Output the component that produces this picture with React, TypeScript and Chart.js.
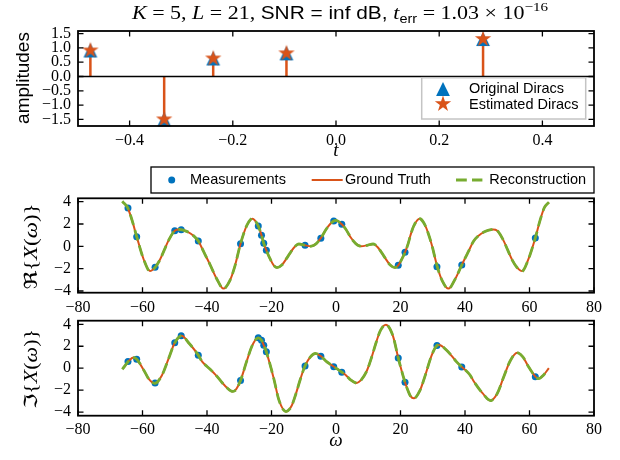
import { useEffect, useRef } from 'react';
import { Chart, registerables } from 'chart.js';

Chart.register(...registerables);

const BLUE = '#0072BD';
const ORANGE = '#D95319';
const GREEN = '#77AC30';

const SERIF = '"Liberation Serif", "DejaVu Serif", serif';
const SANS = '"Liberation Sans", "DejaVu Sans", sans-serif';
const TICK_FONT = { family: SERIF, size: 16 };

// Dirac stream: locations and amplitudes
const DIRAC_T = [-0.476, -0.333, -0.238, -0.096, 0.285];
const DIRAC_A = [0.91, -1.5, 0.63, 0.81, 1.31];

// Real part of the spectrum (ground truth = reconstruction)
const RE_W = [-66, -64.6, -63.2, -61.8, -59.6, -57.7, -56.1, -54.6, -53.2, -51.8, -50, -48.7, -46, -44, -42.7, -41, -39, -37, -34.9, -33, -31.4, -29.6, -27.6, -25.9, -24.1, -23.1, -22.4, -21.6, -20.3, -19.3, -18.3, -16.8, -15, -13, -11.5, -9.6, -7.8, -6.2, -4.75, -3, -1.8, -0.7, 0, 1.8, 3, 4.75, 6.2, 7.8, 9.6, 11.5, 13, 15, 16.8, 18.3, 19.3, 20.3, 21.4, 22.4, 23.1, 24.1, 25.9, 27.6, 29.6, 31.4, 33, 34.9, 37, 39, 41, 42.7, 44, 46, 48.7, 50, 51.8, 53.2, 54.6, 56.1, 57.7, 59.6, 61.8, 63.2, 64.6, 66];
const RE_V = [3.94, 3.46, 2.3, 0.87, -1.2, -2.21, -1.88, -1.2, -0.3, 0.6, 1.4, 1.51, 1.3, 0.9, 0.48, -0.5, -1.67, -2.9, -3.78, -3.12, -1.82, 0.24, 1.9, 2.48, 1.82, 0.99, 0.27, -0.36, -1.2, -1.7, -1.9, -1.67, -0.94, -0.1, 0.21, 0.09, 0.01, 0.22, 0.72, 1.55, 2.0, 2.27, 2.32, 1.97, 1.55, 0.72, 0.22, 0.01, 0.09, 0.21, -0.1, -0.94, -1.67, -1.9, -1.7, -1.2, -0.54, 0.27, 0.99, 1.82, 2.48, 1.9, 0.24, -1.82, -3.12, -3.78, -2.9, -1.67, -0.5, 0.48, 0.9, 1.3, 1.51, 1.4, 0.6, -0.3, -1.2, -1.88, -2.21, -1.2, 0.75, 2.25, 3.46, 3.94];

// Imaginary part of the spectrum (ground truth = reconstruction)
const IM_W = [-66, -64.4, -62.8, -61.8, -59.5, -58, -56.2, -54, -52, -50, -47.9, -45.5, -42.7, -41.5, -39, -37.4, -34.3, -32, -31, -29.6, -27.6, -26, -24.1, -23.1, -22.4, -21.6, -19.3, -17.7, -15.5, -13.8, -12.5, -11, -9.6, -8, -6.4, -4.65, -3, -0.6, 0, 1.8, 3, 4.65, 6.4, 8, 9.6, 11, 12.5, 13.8, 15.5, 17.7, 19.3, 21.4, 22.4, 23.1, 24.1, 26, 27.6, 29.6, 31.2, 32, 34.3, 37.4, 39, 41.5, 42.7, 45.5, 47.9, 50, 52, 54, 56.2, 58, 59.5, 61.9, 62.8, 64.4, 66];
const IM_V = [0, 0.61, 0.97, 0.82, -0.23, -1.0, -1.38, -0.66, 0.8, 2.31, 2.95, 2.25, 1.19, 0.6, -0.1, -0.58, -1.64, -2.12, -1.94, -1.12, 0.72, 2.05, 2.77, 2.55, 2.1, 1.49, -0.94, -2.9, -3.95, -3.45, -2.4, -0.95, 0.21, 1.0, 1.34, 1.09, 0.62, 0.13, 0, -0.36, -0.62, -1.09, -1.34, -1.0, -0.21, 0.95, 2.4, 3.45, 3.95, 2.9, 0.94, -1.28, -2.1, -2.55, -2.75, -2.05, -0.72, 1.12, 2.04, 2.12, 1.64, 0.58, 0.12, -0.6, -1.19, -2.3, -2.95, -2.31, -0.8, 0.66, 1.4, 1.0, 0.23, -0.79, -0.95, -0.61, 0];

// Measured Fourier samples
const MEAS_W = [-64.5, -61.8, -56.1, -50.0, -48.0, -42.7, -29.6, -24.1, -23.1, -22.4, -21.6, -9.6, -4.7, -0.7, 1.8, 19.3, 21.4, 31.3, 39.0, 61.8];
const MEAS_RE = [3.44, 0.85, -1.88, 1.4, 1.49, 0.48, 0.24, 1.82, 0.99, 0.27, -0.36, 0.09, 0.72, 2.27, 1.97, -1.7, -0.54, -1.82, -1.67, 0.75];
const MEAS_IM = [0.61, 0.82, -1.34, 2.31, 2.95, 1.19, -1.12, 2.77, 2.55, 2.1, 1.49, 0.21, 1.09, 0.13, -0.36, 0.94, -1.28, 2.06, 0.12, -0.79];

// Tick values and labels
const T_TICKS = [-0.4, -0.2, 0, 0.2, 0.4];
const T_LABELS = ['−0.4', '−0.2', '0.0', '0.2', '0.4'];
const AMP_TICKS = [-1.5, -1, -0.5, 0, 0.5, 1, 1.5];
const AMP_LABELS = ['−1.5', '−1.0', '−0.5', '0.0', '0.5', '1.0', '1.5'];
const W_TICKS = [-80, -60, -40, -20, 0, 20, 40, 60, 80];
const W_LABELS = ['−80', '−60', '−40', '−20', '0', '20', '40', '60', '80'];
const X_TICKS = [-4, -2, 0, 2, 4];
const X_LABELS = ['−4', '−2', '0', '2', '4'];

type Ctx = CanvasRenderingContext2D;
type Part = { text: string; font: string; dy?: number };

function drawTri(ctx: Ctx, x: number, y: number, s: number, color: string) {
  ctx.beginPath();
  ctx.moveTo(x, y - s);
  ctx.lineTo(x - s, y + s);
  ctx.lineTo(x + s, y + s);
  ctx.closePath();
  ctx.fillStyle = color;
  ctx.fill();
}

function drawStar(ctx: Ctx, x: number, y: number, R: number, color: string) {
  const r = R * 0.381966;
  ctx.beginPath();
  for (let i = 0; i < 10; i++) {
    const a = -Math.PI / 2 + (i * Math.PI) / 5;
    const rad = i % 2 === 0 ? R : r;
    const px = x + rad * Math.cos(a);
    const py = y + rad * Math.sin(a);
    if (i === 0) ctx.moveTo(px, py);
    else ctx.lineTo(px, py);
  }
  ctx.closePath();
  ctx.fillStyle = color;
  ctx.fill();
}

function markerCanvas(draw: (g: Ctx, cx: number, cy: number) => void) {
  const c = document.createElement('canvas');
  c.width = 24;
  c.height = 24;
  const g = c.getContext('2d') as Ctx;
  draw(g, 12, 12);
  return c;
}

function drawParts(ctx: Ctx, parts: Part[], x: number, y: number, fit?: number) {
  let total = 0;
  const widths = parts.map((p) => {
    ctx.font = p.font;
    const w = ctx.measureText(p.text).width;
    total += w;
    return w;
  });
  const sx = fit ? fit / total : 1;
  ctx.save();
  ctx.translate(x - (total * sx) / 2, y);
  ctx.scale(sx, 1);
  ctx.fillStyle = '#000';
  ctx.textAlign = 'left';
  let cx = 0;
  parts.forEach((p, i) => {
    ctx.font = p.font;
    ctx.fillText(p.text, cx, p.dy || 0);
    cx += widths[i];
  });
  ctx.restore();
}

const zip = (xs: number[], ys: number[]) => xs.map((x, i) => ({ x, y: ys[i] }));

// Box around the axes plus inward ticks on all four sides
const framePlugin = {
  id: 'frame',
  afterDatasetsDraw(chart: any) {
    const { ctx, chartArea } = chart;
    const { left, right, top, bottom } = chartArea;
    const xs = chart.scales.x;
    const ys = chart.scales.y;
    const L = 5.5;
    ctx.save();
    ctx.strokeStyle = '#000';
    ctx.lineWidth = 1.3;
    ctx.beginPath();
    for (const t of xs.ticks) {
      const px = xs.getPixelForValue(t.value);
      ctx.moveTo(px, bottom);
      ctx.lineTo(px, bottom - L);
      ctx.moveTo(px, top);
      ctx.lineTo(px, top + L);
    }
    for (const t of ys.ticks) {
      const py = ys.getPixelForValue(t.value);
      ctx.moveTo(left, py);
      ctx.lineTo(left + L, py);
      ctx.moveTo(right, py);
      ctx.lineTo(right - L, py);
    }
    ctx.stroke();
    ctx.lineWidth = 1.8;
    ctx.strokeRect(left, top, right - left, bottom - top);
    ctx.restore();
  },
};

function xAxis(min: number, max: number, ticks: number[], labels: string[], pad: number) {
  return {
    type: 'linear',
    min,
    max,
    grid: { display: false, drawTicks: false },
    border: { display: false },
    ticks: {
      color: '#000',
      font: TICK_FONT,
      padding: pad,
      maxRotation: 0,
      autoSkip: false,
      callback: (_v: any, i: number) => labels[i],
    },
    afterBuildTicks: (s: any) => {
      s.ticks = ticks.map((value) => ({ value }));
    },
    afterFit: (s: any) => {
      s.height = 24;
      s.paddingLeft = 0;
      s.paddingRight = 0;
    },
  };
}

function yAxis(min: number, max: number, ticks: number[], labels: string[]) {
  return {
    type: 'linear',
    min,
    max,
    grid: { display: false, drawTicks: false },
    border: { display: false },
    ticks: {
      color: '#000',
      font: TICK_FONT,
      padding: 7,
      autoSkip: false,
      callback: (_v: any, i: number) => labels[i],
    },
    afterBuildTicks: (s: any) => {
      s.ticks = ticks.map((value) => ({ value }));
    },
    afterFit: (s: any) => {
      s.width = 78;
      s.paddingTop = 0;
      s.paddingBottom = 0;
    },
  };
}

function baseOptions(top: number, bottom: number, x: any, y: any) {
  return {
    animation: false,
    responsive: false,
    devicePixelRatio: 1,
    events: [],
    layout: {
      autoPadding: false,
      padding: { left: 0, right: 26, top, bottom: 460 - bottom - 24 },
    },
    plugins: {
      legend: { display: false },
      tooltip: { enabled: false },
      title: { display: false },
    },
    scales: { x, y },
  };
}

const it = (s: number) => `italic ${s}px ${SERIF}`;
const rm = (s: number) => `${s}px ${SERIF}`;

function spectrumDatasets(w: number[], v: number[], mw: number[], mv: number[]) {
  return [
    {
      data: zip(w, v),
      showLine: true,
      borderColor: GREEN,
      borderWidth: 2.8,
      borderDash: [8, 8],
      borderCapStyle: 'square',
      pointRadius: 0,
      cubicInterpolationMode: 'monotone',
      order: 0,
    },
    {
      data: zip(w, v),
      showLine: true,
      borderColor: ORANGE,
      borderWidth: 2,
      pointRadius: 0,
      cubicInterpolationMode: 'monotone',
      order: 1,
    },
    {
      data: zip(mw, mv),
      showLine: false,
      pointRadius: 3.5,
      pointBackgroundColor: BLUE,
      pointBorderWidth: 0,
      order: 2,
    },
  ];
}

const spectrumLabel = (sym: string): Part[] => [
  { text: sym, font: `18px "DejaVu Serif", "DejaVu Sans"` },
  { text: '{', font: rm(18) },
  { text: 'X', font: it(18) },
  { text: '(', font: rm(18) },
  { text: 'ω', font: it(18) },
  { text: ')', font: rm(18) },
  { text: '}', font: rm(18) },
];

export default function App() {
  const topRef = useRef<HTMLCanvasElement>(null);
  const midRef = useRef<HTMLCanvasElement>(null);
  const botRef = useRef<HTMLCanvasElement>(null);

  useEffect(() => {
    const starImg = markerCanvas((g, cx, cy) => drawStar(g, cx, cy, 8.6, ORANGE));
    const triImg = markerCanvas((g, cx, cy) => drawTri(g, cx, cy, 6.9, BLUE));

    const diracPts = zip(DIRAC_T, DIRAC_A);
    const stems = DIRAC_T.flatMap((t, i) => [
      { x: t, y: 0 },
      { x: t, y: DIRAC_A[i] },
      { x: t, y: NaN },
    ]);

    const topDeco = {
      id: 'topDeco',
      afterDraw(chart: any) {
        const ctx: Ctx = chart.ctx;
        ctx.save();
        ctx.textBaseline = 'alphabetic';
        drawParts(
          ctx,
          [
            { text: 'K', font: it(19) },
            { text: ' = 5, ', font: rm(19) },
            { text: 'L', font: it(19) },
            { text: ' = 21, ', font: rm(19) },
            { text: 'SNR = inf dB, ', font: `18px ${SANS}` },
            { text: 't', font: it(19) },
            { text: 'err', font: `12.5px ${SANS}`, dy: 4 },
            { text: ' = 1.03 × 10', font: rm(19) },
            { text: '−16', font: rm(13), dy: -8 },
          ],
          340,
          19,
          416
        );
        ctx.textBaseline = 'middle';
        drawParts(ctx, [{ text: 't', font: it(19) }], 336, 151);
        // y-axis title
        ctx.save();
        ctx.translate(24, 78);
        ctx.rotate(-Math.PI / 2);
        drawParts(ctx, [{ text: 'amplitudes', font: `19px ${SANS}` }], 0, 0);
        ctx.restore();
        // legend
        ctx.fillStyle = '#fff';
        ctx.fillRect(421.7, 77.7, 164, 41.3);
        ctx.strokeStyle = '#c4c4c4';
        ctx.lineWidth = 1.5;
        ctx.strokeRect(421.7, 77.7, 164, 41.3);
        drawTri(ctx, 443, 89, 6.9, BLUE);
        drawStar(ctx, 443, 104, 8.6, ORANGE);
        ctx.fillStyle = '#000';
        ctx.font = `14.5px ${SANS}`;
        ctx.textAlign = 'left';
        ctx.fillText('Original Diracs', 469, 89);
        ctx.fillText('Estimated Diracs', 469, 104.5);
        ctx.restore();
      },
    };

    const midDeco = {
      id: 'midDeco',
      afterDraw(chart: any) {
        const ctx: Ctx = chart.ctx;
        ctx.save();
        ctx.textBaseline = 'middle';
        ctx.save();
        ctx.translate(32, 246.5);
        ctx.rotate(-Math.PI / 2);
        drawParts(ctx, spectrumLabel('ℜ'), 0, 0, 86);
        ctx.restore();
        // legend above the axes
        ctx.fillStyle = '#fff';
        ctx.fillRect(151, 167, 443, 26);
        ctx.strokeStyle = '#000';
        ctx.lineWidth = 1.3;
        ctx.strokeRect(151, 167, 443, 26);
        ctx.beginPath();
        ctx.arc(171.7, 180, 3.5, 0, Math.PI * 2);
        ctx.fillStyle = BLUE;
        ctx.fill();
        ctx.strokeStyle = ORANGE;
        ctx.lineWidth = 2;
        ctx.beginPath();
        ctx.moveTo(311.7, 180);
        ctx.lineTo(342.7, 180);
        ctx.stroke();
        ctx.strokeStyle = GREEN;
        ctx.lineWidth = 2.8;
        ctx.lineCap = 'square';
        ctx.setLineDash([8, 8]);
        ctx.beginPath();
        ctx.moveTo(457.4, 180);
        ctx.lineTo(481, 180);
        ctx.stroke();
        ctx.setLineDash([]);
        ctx.fillStyle = '#000';
        ctx.font = `14.5px ${SANS}`;
        ctx.textAlign = 'left';
        ctx.fillText('Measurements', 190, 180);
        ctx.fillText('Ground Truth', 345, 180);
        ctx.fillText('Reconstruction', 489.3, 180);
        ctx.restore();
      },
    };

    const botDeco = {
      id: 'botDeco',
      afterDraw(chart: any) {
        const ctx: Ctx = chart.ctx;
        ctx.save();
        ctx.textBaseline = 'middle';
        ctx.save();
        ctx.translate(32, 369);
        ctx.rotate(-Math.PI / 2);
        drawParts(ctx, spectrumLabel('ℑ'), 0, 0, 80);
        ctx.restore();
        drawParts(ctx, [{ text: 'ω', font: it(19) }], 336, 441);
        ctx.restore();
      },
    };

    const top = new Chart(topRef.current as HTMLCanvasElement, {
      type: 'scatter',
      data: {
        datasets: [
          { data: diracPts, pointStyle: starImg, pointRadius: 9, showLine: false, clip: false, order: 0 },
          { data: diracPts, pointStyle: triImg, pointRadius: 8, showLine: false, clip: false, order: 1 },
          {
            data: [
              { x: -0.5, y: 0 },
              { x: 0.5, y: 0 },
            ],
            showLine: true,
            borderColor: '#000',
            borderWidth: 1.6,
            pointRadius: 0,
            order: 2,
          },
          { data: stems, showLine: true, borderColor: ORANGE, borderWidth: 2.5, pointRadius: 0, spanGaps: false, order: 3 },
        ],
      } as any,
      options: baseOptions(
        31,
        126,
        xAxis(-0.5, 0.5, T_TICKS, T_LABELS, 5),
        yAxis(-1.73, 1.59, AMP_TICKS, AMP_LABELS)
      ) as any,
      plugins: [framePlugin, topDeco],
    });

    const mid = new Chart(midRef.current as HTMLCanvasElement, {
      type: 'scatter',
      data: { datasets: spectrumDatasets(RE_W, RE_V, MEAS_W, MEAS_RE) } as any,
      options: baseOptions(
        198.3,
        292.7,
        xAxis(-80, 80, W_TICKS, W_LABELS, 5),
        yAxis(-4.15, 4.3, X_TICKS, X_LABELS)
      ) as any,
      plugins: [framePlugin, midDeco],
    });

    const bot = new Chart(botRef.current as HTMLCanvasElement, {
      type: 'scatter',
      data: { datasets: spectrumDatasets(IM_W, IM_V, MEAS_W, MEAS_IM) } as any,
      options: baseOptions(
        320.7,
        415.7,
        xAxis(-80, 80, W_TICKS, W_LABELS, 4),
        yAxis(-4.33, 4.33, X_TICKS, X_LABELS)
      ) as any,
      plugins: [framePlugin, botDeco],
    });

    return () => {
      top.destroy();
      mid.destroy();
      bot.destroy();
    };
  }, []);

  const cs: any = { position: 'absolute', left: 0, top: 0 };
  return (
    <div style={{ position: 'fixed', left: 0, top: 0, width: 620, height: 460, background: '#fff' }}>
      <canvas ref={topRef} width={620} height={460} style={cs} />
      <canvas ref={midRef} width={620} height={460} style={cs} />
      <canvas ref={botRef} width={620} height={460} style={cs} />
    </div>
  );
}
